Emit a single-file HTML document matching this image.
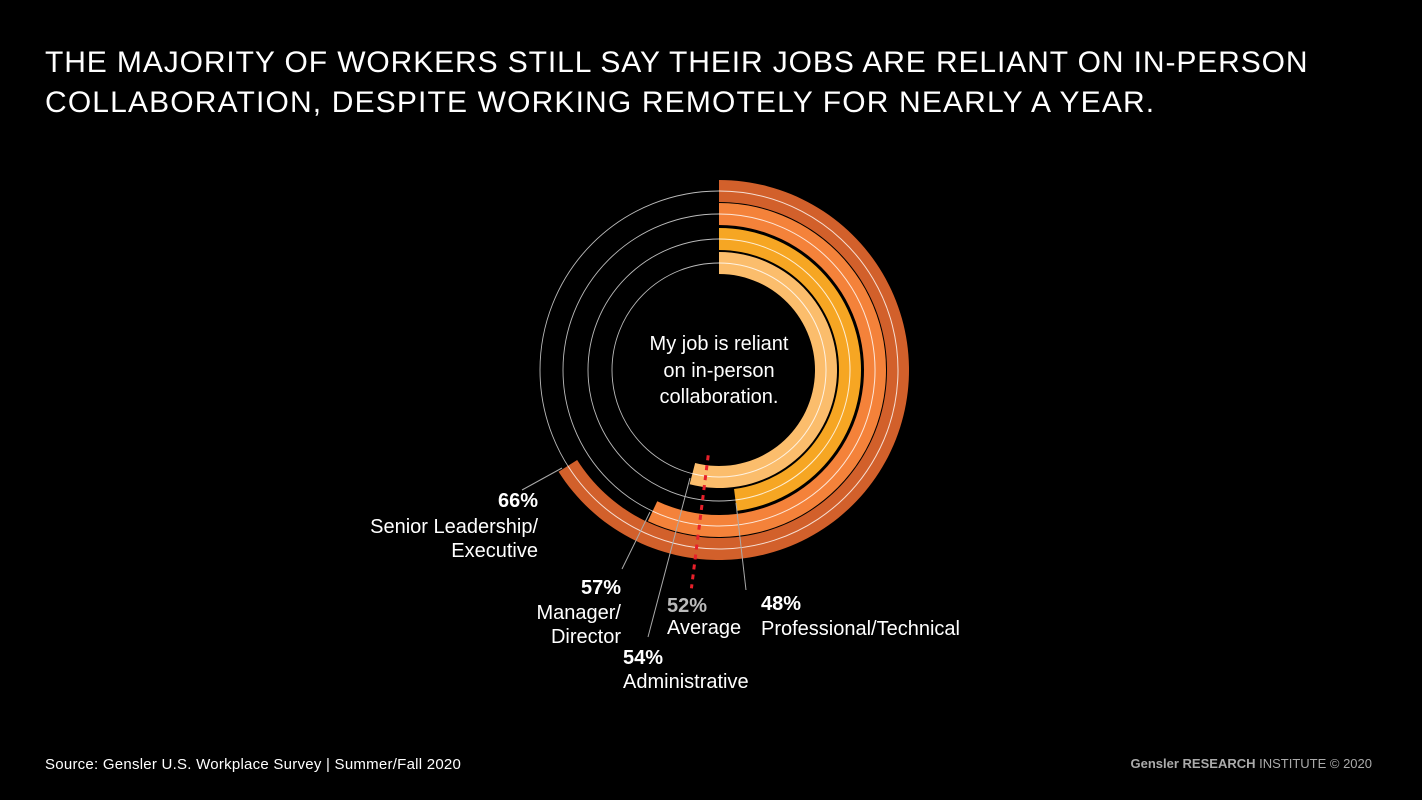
<!DOCTYPE html>
<html><head><meta charset="utf-8">
<style>
body{margin:0;background:#000;width:1422px;height:800px;overflow:hidden;font-family:"Liberation Sans",sans-serif;}
svg{position:absolute;left:0;top:0}
</style></head>
<body>
<svg id="c" width="1422" height="800">
<text x="45" y="72" fill="#fff" font-size="30" font-weight="300" letter-spacing="0.9">THE MAJORITY OF WORKERS STILL SAY THEIR JOBS ARE RELIANT ON IN-PERSON</text>
<text x="45" y="112" fill="#fff" font-size="30" font-weight="300" letter-spacing="1.15">COLLABORATION, DESPITE WORKING REMOTELY FOR NEARLY A YEAR.</text>
<g font-size="20" fill="#fff" text-anchor="middle">
<text x="719" y="350">My job is reliant</text>
<text x="719" y="377">on in-person</text>
<text x="719" y="403">collaboration.</text>
</g>
<text x="45" y="769" fill="#fff" font-size="15" letter-spacing="0.25">Source: Gensler U.S. Workplace Survey | Summer/Fall 2020</text>
<text x="1372" y="768" fill="#aaa" font-size="13" text-anchor="end"><tspan font-weight="bold">Gensler RESEARCH</tspan> INSTITUTE © 2020</text>
</svg>
<script>
const categories=["Senior Leadership/Executive","Manager/Director","Professional/Technical","Administrative"];
const values=[66,57,48,54];
const averageValue=[52];
const colors=["#d2602b","#f4823a","#f6a623","#fbbd6c"];
const outerR=[190,167,142,118];
const W=22, cx=719, cy=370;
const NS="http://www.w3.org/2000/svg";
const svg=document.getElementById('c');
function ang(p){return p/100*2*Math.PI;}
function pt(r,p){const a=ang(p);return [cx+r*Math.sin(a),cy-r*Math.cos(a)];}
function mk(t,at){const e=document.createElementNS(NS,t);for(const k in at)e.setAttribute(k,at[k]);svg.appendChild(e);return e;}
values.forEach((v,i)=>{
  const ro=outerR[i],ri=ro-W,rm=ro-W/2;
  const c=mk('circle',{cx:cx,cy:cy,r:rm,fill:'none',stroke:'#bbb','stroke-width':0.9});
  
  
  const [x1,y1]=pt(ro,0),[x2,y2]=pt(ro,v),[x3,y3]=pt(ri,v),[x4,y4]=pt(ri,0);
  const lg=v>50?1:0;
  const p=mk('path',{d:`M${x1},${y1}A${ro},${ro} 0 ${lg} 1 ${x2},${y2}L${x3},${y3}A${ri},${ri} 0 ${lg} 0 ${x4},${y4}Z`,fill:colors[i]});
  
  
  const [m1x,m1y]=pt(rm,0),[m2x,m2y]=pt(rm,v);
  const l=mk('path',{d:`M${m1x},${m1y}A${rm},${rm} 0 ${lg} 1 ${m2x},${m2y}`,fill:'none',stroke:'#fff','stroke-width':1,opacity:0.8});
  
  
});
const [a1x,a1y]=pt(86,averageValue[0]),[a2x,a2y]=pt(220,averageValue[0]);
const av=mk('line',{x1:a1x,y1:a1y,x2:a2x,y2:a2y,stroke:'#e8202a','stroke-width':3,'stroke-dasharray':'5,5'});


const leaders=[[562,468,522,490],[650,512,622,569],[690,478,648,637],[736,503,746,590]];
leaders.forEach(d=>{const l=mk('line',{x1:d[0],y1:d[1],x2:d[2],y2:d[3],stroke:'#aaa','stroke-width':1});

});
const labels=[
 [538,507,'end',values[0]+'%','#fff',['Senior Leadership/','Executive'],533],
 [621,594,'end',values[1]+'%','#fff',['Manager/','Director'],619],
 [623,664,'start',values[3]+'%','#fff',['Administrative'],688],
 [667,612,'start',averageValue[0]+'%','#bbb',['Average'],634],
 [761,610,'start',values[2]+'%','#fff',['Professional/Technical'],635]];
labels.forEach(L=>{
  const t=mk('text',{x:L[0],y:L[1],'text-anchor':L[2],fill:L[4],'font-size':20,'font-weight':'bold'});t.textContent=L[3];
  
  
  L[5].forEach((s,j)=>{const u=mk('text',{x:L[0],y:L[6]+j*24,'text-anchor':L[2],fill:'#fff','font-size':20,'font-weight':300});u.textContent=s;
  
  });
});
</script>
</body></html>
